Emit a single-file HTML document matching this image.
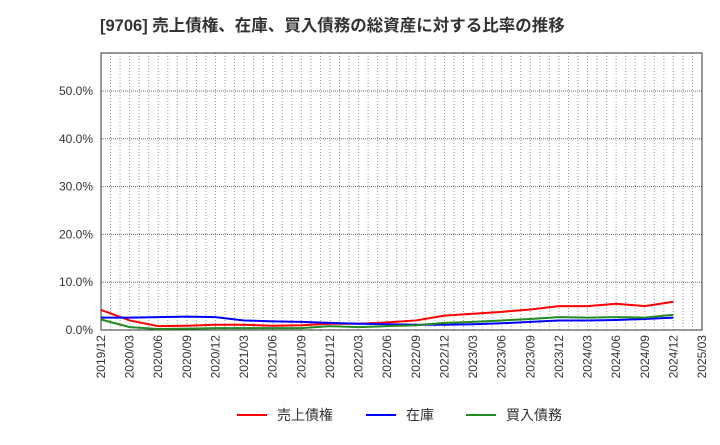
<!DOCTYPE html>
<html><head><meta charset="utf-8"><style>
body{margin:0;background:#fff;font-family:"Liberation Sans","Noto Sans CJK JP",sans-serif;}
svg text{font-family:"Liberation Sans","Noto Sans CJK JP",sans-serif;}
</style></head><body>
<svg id="c" width="720" height="440" xmlns="http://www.w3.org/2000/svg">
<text x="100" y="31" font-size="16.5" font-weight="bold" fill="#333">[9706]  売上債権、在庫、買入債務の総資産に対する比率の推移</text>
<g id="grid"></g><g id="axes"></g><g id="series"></g>
<g>
<line x1="237" y1="415" x2="267" y2="415" stroke="#f00" stroke-width="2"/>
<text x="277" y="420" font-size="14" fill="#333">売上債権</text>
<line x1="366" y1="415" x2="396" y2="415" stroke="#00f" stroke-width="2"/>
<text x="406" y="420" font-size="14" fill="#333">在庫</text>
<line x1="466" y1="415" x2="496" y2="415" stroke="#228b22" stroke-width="2"/>
<text x="506" y="420" font-size="14" fill="#333">買入債務</text>
</g>
</svg>
<script>
const xLabels=["2019/12","2020/03","2020/06","2020/09","2020/12","2021/03","2021/06","2021/09","2021/12","2022/03","2022/06","2022/09","2022/12","2023/03","2023/06","2023/09","2023/12","2024/03","2024/06","2024/09","2024/12","2025/03"];
const yTicks=[0,10,20,30,40,50];
const receivables=[4.2,2.0,0.8,0.9,1.1,1.1,0.9,1.0,1.3,1.3,1.6,2.0,3.0,3.4,3.8,4.3,5.0,5.0,5.5,5.0,5.9];
const inventory=[2.6,2.6,2.7,2.8,2.7,2.0,1.8,1.7,1.5,1.3,1.2,1.1,1.1,1.2,1.4,1.7,2.0,2.0,2.1,2.3,2.6];
const payables=[2.2,0.6,0.2,0.3,0.4,0.4,0.4,0.4,0.8,0.6,0.8,1.0,1.5,1.7,2.0,2.3,2.7,2.6,2.7,2.6,3.2];
const L=101,R=702,T=53,B=330;
const NS="http://www.w3.org/2000/svg";
const xs=i=>L+(R-L)*i/(xLabels.length-1);
const ys=v=>B-v*(B-91)/50;
function mk(tag,attrs,parent){const e=document.createElementNS(NS,tag);for(const k in attrs)e.setAttribute(k,attrs[k]);document.getElementById(parent).appendChild(e);return e;}
for(let m=1;m<(xLabels.length-1)*3;m++){const x=L+(R-L)*m/((xLabels.length-1)*3);
const g=mk("line",{x1:x,y1:T,x2:x,y2:B,stroke:"#999","stroke-width":1,"stroke-dasharray":"1,2"},"grid");

}
yTicks.forEach(v=>{const y=ys(v);
if(v>0){const g=mk("line",{x1:L,y1:y,x2:R,y2:y,stroke:"#666","stroke-width":1,"stroke-dasharray":"1,1"},"grid");

}
const t=mk("text",{x:L-8,y:y+4,"font-size":12,fill:"#333","text-anchor":"end"},"axes");t.textContent=v.toFixed(1)+"%";

});
xLabels.forEach((s,i)=>{const x=xs(i);
const t=mk("text",{transform:`translate(${x+4},${B+5}) rotate(-90)`,"font-size":12,fill:"#333","text-anchor":"end"},"axes");t.textContent=s;

});
const fr=mk("rect",{x:L,y:T,width:R-L,height:B-T,fill:"none",stroke:"#333","stroke-width":1},"axes");


[[receivables,"#f00","line-receivables"],[inventory,"#00f","line-inventory"],[payables,"#228b22","line-payables"]].forEach(([d,c,n])=>{
const p=mk("polyline",{points:d.map((v,i)=>xs(i)+","+ys(v)).join(" "),fill:"none",stroke:c,"stroke-width":2},"series");

});
</script>
</body></html>
